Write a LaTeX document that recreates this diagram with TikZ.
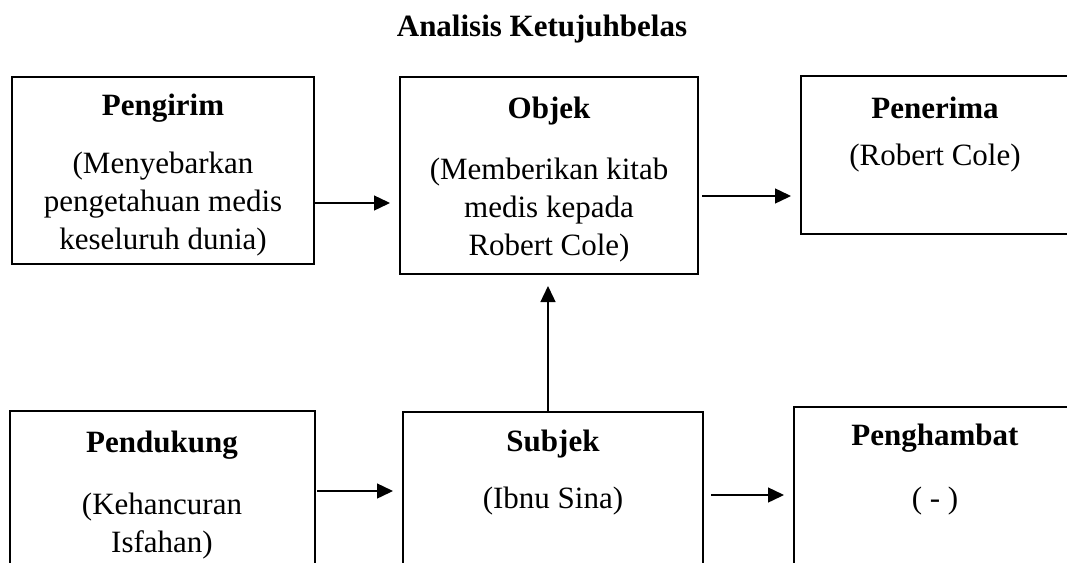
\documentclass[tikz,border=0pt]{standalone}
\usepackage{fontspec}
\setmainfont{Liberation Serif}
\usetikzlibrary{arrows.meta}
\begin{document}
\begin{tikzpicture}[x=1pt,y=-1pt,
  box/.style={draw, line width=1.8pt, rectangle, anchor=north west, inner sep=0pt, outer sep=0pt},
  head/.style={font=\fontsize{31}{38}\selectfont\bfseries, inner sep=0pt},
  body/.style={font=\fontsize{31}{38}\selectfont, align=center, inner sep=0pt},
  link/.style={line width=1.4pt, -{Triangle[length=16pt,width=15pt]}, shorten >=10pt}]
\useasboundingbox (0,0) rectangle (1067,562);
\clip (0,0) rectangle (1067,562);

% title
\node[head] (title) at (542,29) {Analisis Ketujuhbelas};

% boxes of the actant scheme
\node[box, minimum width=302pt, minimum height=187pt] (pengirim)   at (12,77)  {};
\node[box, minimum width=298pt, minimum height=197pt] (objek)      at (400,77) {};
\node[box, minimum width=270pt, minimum height=158pt] (penerima)   at (801,76) {};
\node[box, minimum width=305pt, minimum height=200pt] (pendukung)  at (10,411) {};
\node[box, minimum width=300pt, minimum height=200pt] (subjek)     at (403,412) {};
\node[box, minimum width=285pt, minimum height=200pt] (penghambat) at (794,407) {};

% labels
\node[head] (pengirimH) at (163,108) {Pengirim};
\node[body] (pengirimB) at (163,204) {(Menyebarkan\\pengetahuan medis\\keseluruh dunia)};
\node[head] (objekH) at (549,111) {Objek};
\node[body] (objekB) at (549,210) {(Memberikan kitab\\medis kepada\\Robert Cole)};
\node[head] (penerimaH) at (935,108) {Penerima};
\node[body] (penerimaB) at (935,158) {(Robert Cole)};
\node[head] (pendukungH) at (162,445) {Pendukung};
\node[body] (pendukungB) at (162,526) {(Kehancuran\\Isfahan)};
\node[head] (subjekH) at (553,444) {Subjek};
\node[body] (subjekB) at (553,501) {(Ibnu Sina)};
\node[head] (penghambatH) at (935,438) {Penghambat};
\node[body] (penghambatB) at (935,501) {( - )};

% connectors
\draw[link] (pengirim.east |- 0,203) -- (objek.west |- 0,203);
\draw[link] ([xshift=4pt]objek.east |- 0,196) -- (penerima.west |- 0,196);
\draw[link] ([xshift=2pt]pendukung.east |- 0,491) -- (subjek.west |- 0,491);
\draw[link] ([xshift=8pt]subjek.east |- 0,495) -- (penghambat.west |- 0,495);
\draw[link, shorten >=12pt] (subjek.north -| 548,0) -- (objek.south -| 548,0);
\end{tikzpicture}
\end{document}
